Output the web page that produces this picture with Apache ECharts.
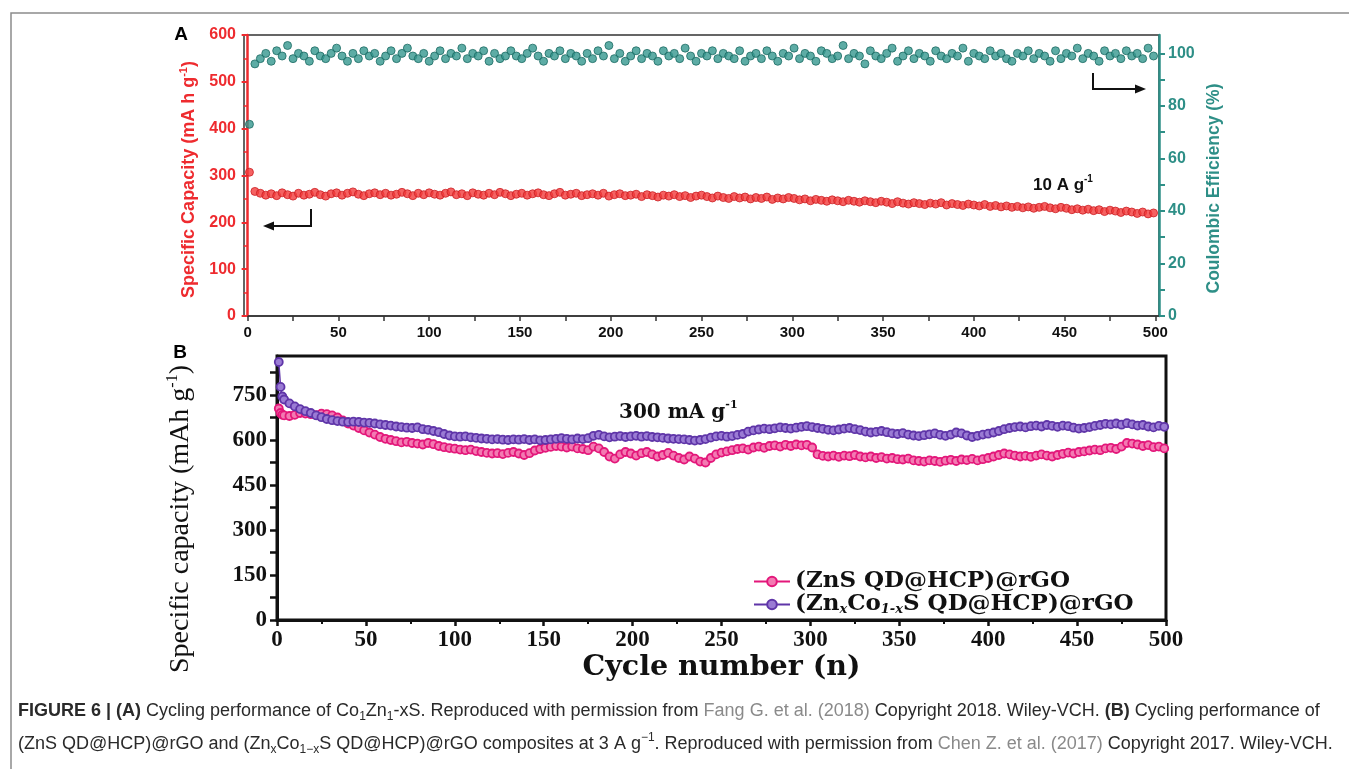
<!DOCTYPE html>
<html>
<head>
<meta charset="utf-8">
<title>Figure 6 - cycling performance</title>
<script src="https://cdn.jsdelivr.net/npm/echarts@6.0.0/dist/echarts.min.js"></script>
<style>
  html, body { margin: 0; padding: 0; background: #fff; }
  #chart { width: 1349px; height: 769px; }
</style>
</head>
<body>
<div id="chart"></div>
<script>
// sampling grid used for both panels: cycle 1, 4, 7 ... 499
const cycles = Array.from({ length: 167 }, (_, i) => 1 + 3 * i);

// tick labels
const xTicks = [0, 50, 100, 150, 200, 250, 300, 350, 400, 450, 500];
const xMinorA = [0, 25, 50, 75, 100, 125, 150, 175, 200, 225, 250, 275, 300, 325, 350, 375, 400, 425, 450, 475, 500];
const effTicks = [0, 20, 40, 60, 80, 100];
const effTickMarks = [0, 10, 20, 30, 40, 50, 60, 70, 80, 90, 100];
const capTicksB = [0, 150, 300, 450, 600, 750];
const capTickMarksB = [0, 75, 150, 225, 300, 375, 450, 525, 600, 675, 750, 825];

// panel A: specific capacity (mA h g-1), 10 A g-1
const capacityA = [307,
  266, 262, 258, 261, 257, 263, 259, 256, 262, 258, 260, 264, 259, 256, 261, 263,
  258, 262, 265, 260, 257, 261, 263, 259, 262, 258, 260, 264, 261, 257, 262, 259, 263,
  260, 258, 262, 265, 259, 261, 257, 263, 260, 258, 262, 259, 264, 261, 257, 260,
  262, 258, 261, 263, 259, 257, 261, 264, 258, 260, 262, 257, 259, 261, 258, 262, 256,
  259, 261, 257, 258, 260, 255, 259, 257, 254, 258, 256, 259, 255, 257, 253, 256, 258,
  255, 252, 256, 253, 251, 255, 252, 254, 250, 253, 251, 254, 249, 252, 250, 253,
  251, 248, 250, 246, 249, 247, 245, 248, 246, 244, 247, 245, 243, 246, 244, 242, 245,
  243, 240, 244, 241, 239, 242, 240, 238, 241, 239, 242, 237, 240, 238, 236, 239,
  237, 235, 238, 234, 236, 233, 235, 232, 234, 231, 233, 230, 232, 234, 231, 229, 232,
  230, 227, 229, 226, 228, 225, 227, 223, 226, 224, 221, 224, 222, 219, 222, 218, 220];

// panel A: coulombic efficiency (%)
const efficiencyA = [73, 96,
  98, 100, 97, 101, 99, 103, 98, 100, 99, 97,
  101, 99, 98, 100, 102, 99, 97, 100, 98, 101,
  99, 100, 97, 99, 101, 98, 100, 102, 99, 98,
  100, 97, 99, 101, 98, 100, 99, 102, 98, 100,
  99, 101, 97, 100, 98, 99, 101, 99, 98, 100,
  102, 99, 97, 100, 99, 101, 98, 100, 99, 97,
  100, 98, 101, 99, 103, 98, 100, 97, 99, 101,
  98, 100, 99, 97, 101, 99, 100, 98, 102, 99,
  97, 100, 99, 101, 98, 100, 99, 98, 101, 97,
  99, 100, 98, 101, 99, 97, 100, 99, 102, 98,
  100, 99, 97, 101, 100, 98, 99, 103, 98, 100,
  99, 96, 101, 99, 98, 100, 102, 97, 99, 101,
  98, 100, 99, 97, 101, 99, 98, 100, 99, 102,
  97, 100, 99, 98, 101, 99, 100, 98, 97, 100,
  99, 101, 98, 100, 99, 97, 101, 98, 100, 99,
  102, 98, 100, 99, 97, 101, 99, 100, 98, 101,
  99, 100, 98, 102, 99];

// panel B: specific capacity (mAh g-1), 300 mA g-1
const znsB = [
  705, 682, 680, 684, 690, 688, 686, 683, 688, 686,
  682, 675, 665, 655, 648, 640, 632, 625, 618, 610,
  604, 600, 596, 592, 594, 590, 588, 585, 590, 586,
  580, 576, 573, 571, 568, 566, 568, 563, 560, 557,
  555, 556, 553, 557, 560, 555, 550, 556, 565, 570,
  574, 577, 580, 578, 575, 578, 572, 570, 566, 578,
  572, 560, 545, 538, 552, 560, 555, 548, 556, 560,
  552, 545, 550, 557, 548, 540, 535, 545, 538, 528,
  525, 540, 552, 558, 562, 566, 570, 572, 568, 575,
  578, 574, 580, 582, 578, 584, 580, 585, 582, 584,
  575, 552, 547, 545, 548, 544, 548, 546, 550, 545,
  542, 545, 540, 543, 538, 540, 536, 535, 538, 532,
  530, 528, 532, 530, 527, 531, 534, 530, 535, 533,
  537, 532, 536, 540, 545, 550, 555, 552, 548, 545,
  547, 544, 548, 552, 548, 545, 550, 554, 558, 555,
  560, 562, 565, 568, 566, 572, 574, 570, 578, 590,
  588, 585, 580, 583, 576, 578, 572];

const znCoB = [
  860, 735, 722, 712, 703, 696, 690, 682, 676, 670,
  666, 663, 661, 660, 661, 660, 658, 657, 655, 652,
  650, 648, 645, 643, 641, 640, 642, 636, 634, 630,
  626, 620, 615, 612, 611, 612, 609, 607, 605, 604,
  602, 603, 601, 600, 602, 601, 603, 600, 602, 599,
  600, 602, 604, 606, 604, 602, 605, 603, 606, 614,
  617, 612, 609, 611, 613, 610, 612, 614, 611, 613,
  610, 609, 607, 605, 604, 603, 602, 600, 598, 600,
  603, 608, 612, 614, 611, 613, 617, 620, 628, 632,
  635, 638, 636, 639, 642, 640, 638, 641, 644, 646,
  643, 640, 637, 634, 632, 635, 638, 640, 636, 633,
  628, 625, 627, 630, 626, 622, 620, 623, 618, 615,
  613, 616, 619, 622, 617, 614, 618, 625, 622, 615,
  610, 614, 618, 621, 625, 630, 636, 640, 643, 645,
  642, 646, 648, 645, 650, 647, 644, 648, 646, 641,
  638, 640, 643, 647, 650, 654, 652, 655, 651, 656,
  652, 648, 650, 645, 642, 647, 644];

// extra early cycles in panel B
const earlyCyclesB = [2, 3];
const earlyZnsB = [690, 684];
const earlyZnCoB = [777, 745];

const RED = '#ee2b2f';
const TEAL = '#2e8f87';
const PINK = '#e3177a';
const PURPLE = '#5f35a8';
const SANS = 'Liberation Sans';
const SERIF = 'Liberation Serif';
const WIDE_SERIF = 'DejaVu Serif';

const pairs = (xs, ys) => xs.map((x, i) => [x, ys[i]]);
const mergeEarly = (main, ex, ey) =>
  pairs(cycles, main).concat(pairs(ex, ey)).sort((a, b) => a[0] - b[0]);

const chart = echarts.init(document.getElementById('chart'));

const option = {
  animation: false,
  backgroundColor: '#fff',
  grid: [
    { left: 244, top: 35, width: 915, height: 281, show: true, borderColor: '#333', borderWidth: 1.5, backgroundColor: 'transparent' },
    { left: 277, top: 356, width: 889, height: 264, show: true, borderColor: '#111', borderWidth: 3, backgroundColor: 'transparent' }
  ],
  xAxis: [
    {
      gridIndex: 0, type: 'value', min: -2, max: 502,
      axisLine: { lineStyle: { color: '#333', width: 1.5 } },
      axisTick: { customValues: xMinorA, length: 5, lineStyle: { color: '#333', width: 1.5 } },
      axisLabel: { customValues: xTicks, color: '#111', fontFamily: SANS, fontWeight: 'bold', fontSize: 15, margin: 9 },
      splitLine: { show: false }
    },
    {
      gridIndex: 1, type: 'value', min: 0, max: 500, interval: 50,
      axisLine: { lineStyle: { color: '#111', width: 3 } },
      axisTick: { length: 6, lineStyle: { color: '#111', width: 2.5 } },
      minorTick: { show: true, splitNumber: 2, length: 4, lineStyle: { color: '#111', width: 2 } },
      axisLabel: { color: '#111', fontFamily: SERIF, fontWeight: 'bold', fontSize: 23, margin: 9 },
      splitLine: { show: false },
      minorSplitLine: { show: false },
      name: 'Cycle number (n)', nameLocation: 'middle', nameGap: 33,
      nameTextStyle: { color: '#111', fontFamily: WIDE_SERIF, fontWeight: 'bold', fontSize: 28.5 }
    }
  ],
  yAxis: [
    {
      gridIndex: 0, type: 'value', min: 0, max: 600, interval: 100, position: 'left',
      axisLine: { show: true, lineStyle: { color: RED, width: 2.5 } },
      axisTick: { show: true, length: 6, lineStyle: { color: RED, width: 2 } },
      minorTick: { show: true, splitNumber: 2, length: 4, lineStyle: { color: RED, width: 1.5 } },
      axisLabel: { color: RED, fontFamily: SANS, fontWeight: 'bold', fontSize: 16, margin: 8 },
      splitLine: { show: false },
      name: 'Specific Capacity (mA h g{sup|-1})', nameLocation: 'middle', nameGap: 40, nameRotate: 90,
      nameTextStyle: {
        color: RED, fontFamily: SANS, fontWeight: 'bold', fontSize: 18, padding: [0, 8, 0, 0],
        rich: { sup: { color: RED, fontFamily: SANS, fontWeight: 'bold', fontSize: 11, verticalAlign: 'top', lineHeight: 21 } }
      }
    },
    {
      gridIndex: 0, type: 'value', min: 0, max: 107, position: 'right',
      axisLine: { show: true, lineStyle: { color: TEAL, width: 2.5 } },
      axisTick: { show: true, customValues: effTickMarks, length: 6, lineStyle: { color: TEAL, width: 2 } },
      axisLabel: { customValues: effTicks, color: TEAL, fontFamily: SANS, fontWeight: 'bold', fontSize: 16, margin: 9 },
      splitLine: { show: false },
      name: 'Coulombic Efficiency (%)', nameLocation: 'middle', nameGap: 33, nameRotate: 90,
      nameTextStyle: { color: TEAL, fontFamily: SANS, fontWeight: 'bold', fontSize: 17.5, padding: [0, 26, 0, 0] }
    },
    {
      gridIndex: 1, type: 'value', min: 0, max: 880,
      axisLine: { show: true, lineStyle: { color: '#111', width: 3 } },
      axisTick: { show: true, customValues: capTickMarksB, length: 7, lineStyle: { color: '#111', width: 2.5 } },
      axisLabel: { customValues: capTicksB, color: '#111', fontFamily: SERIF, fontWeight: 'bold', fontSize: 23, margin: 10 },
      splitLine: { show: false },
      name: 'Specific capacity (mAh g{sup|-1})', nameLocation: 'middle', nameGap: 80, nameRotate: 90,
      nameTextStyle: {
        color: '#111', fontFamily: SERIF, fontSize: 28, padding: [0, 62, 0, 0],
        rich: { sup: { color: '#111', fontFamily: SERIF, fontSize: 16, verticalAlign: 'top', lineHeight: 32 } }
      }
    }
  ],
  legend: {
    left: 748, top: 565, orient: 'vertical', itemGap: 0,
    itemWidth: 36, itemHeight: 12,
    data: ['(ZnS QD@HCP)@rGO', '(ZnxCo1-xS QD@HCP)@rGO'],
    formatter: name => name === '(ZnS QD@HCP)@rGO' ? name : '(Zn{s|x}Co{s|1-x}S QD@HCP)@rGO',
    textStyle: {
      color: '#111', fontFamily: WIDE_SERIF, fontWeight: 'bold', fontSize: 23, lineHeight: 23,
      rich: { s: { fontFamily: WIDE_SERIF, fontWeight: 'bold', fontStyle: 'italic', fontSize: 13, verticalAlign: 'bottom', lineHeight: 23 } }
    }
  },
  series: [
    {
      name: 'Capacity A', type: 'scatter', xAxisIndex: 0, yAxisIndex: 0,
      data: pairs(cycles, capacityA), symbolSize: 8,
      itemStyle: { color: '#f23b3b', borderColor: '#cc1f24', borderWidth: 1 }
    },
    {
      name: 'Efficiency A', type: 'scatter', xAxisIndex: 0, yAxisIndex: 1,
      data: pairs(cycles, efficiencyA), symbolSize: 8,
      itemStyle: { color: '#35978e', borderColor: '#1b6a63', borderWidth: 1 }
    },
    {
      name: '(ZnS QD@HCP)@rGO', type: 'line', xAxisIndex: 1, yAxisIndex: 2,
      data: mergeEarly(znsB, earlyCyclesB, earlyZnsB),
      symbol: 'circle', symbolSize: 8, showAllSymbol: true,
      lineStyle: { color: PINK, width: 1.5 },
      itemStyle: { color: '#f37ab2', borderColor: PINK, borderWidth: 1.8 }
    },
    {
      name: '(ZnxCo1-xS QD@HCP)@rGO', type: 'line', xAxisIndex: 1, yAxisIndex: 2,
      data: mergeEarly(znCoB, earlyCyclesB, earlyZnCoB),
      symbol: 'circle', symbolSize: 8, showAllSymbol: true,
      lineStyle: { color: PURPLE, width: 1.5 },
      itemStyle: { color: '#9a7bd4', borderColor: PURPLE, borderWidth: 1.8 }
    }
  ],
  graphic: [
    // figure frame
    { type: 'rect', shape: { x: 11, y: 13, width: 1345, height: 770 }, style: { fill: 'none', stroke: '#8c8c8c', lineWidth: 1.5 }, silent: true },
    // panel letters
    { type: 'text', x: 181, y: 35, style: { text: 'A', fill: '#000', fontFamily: SANS, fontWeight: 'bold', fontSize: 19, align: 'center', verticalAlign: 'middle' } },
    { type: 'text', x: 180, y: 353, style: { text: 'B', fill: '#000', fontFamily: SANS, fontWeight: 'bold', fontSize: 19, align: 'center', verticalAlign: 'middle' } },
    // annotations
    {
      type: 'text', x: 1033, y: 185,
      style: {
        text: '10 A g{sup|-1}', fill: '#111', fontFamily: SANS, fontWeight: 'bold', fontSize: 17, verticalAlign: 'middle', lineHeight: 22,
        rich: { sup: { fontFamily: SANS, fontWeight: 'bold', fontSize: 10, verticalAlign: 'top', lineHeight: 22, fill: '#111' } }
      }
    },
    {
      type: 'text', x: 619, y: 413,
      style: {
        text: '300 mA g{sup|-1}', fill: '#111', fontFamily: WIDE_SERIF, fontWeight: 'bold', fontSize: 20, verticalAlign: 'middle', lineHeight: 26,
        rich: { sup: { fontFamily: WIDE_SERIF, fontWeight: 'bold', fontSize: 11, verticalAlign: 'top', lineHeight: 26, fill: '#111' } }
      }
    },
    // left-pointing arrow (capacity axis)
    { type: 'polyline', shape: { points: [[311, 209], [311, 226], [272, 226]] }, style: { stroke: '#111', lineWidth: 2, fill: 'none' } },
    { type: 'polygon', shape: { points: [[263, 226], [274, 221.5], [274, 230.5]] }, style: { fill: '#111' } },
    // right-pointing arrow (efficiency axis)
    { type: 'polyline', shape: { points: [[1093, 73], [1093, 89], [1136, 89]] }, style: { stroke: '#111', lineWidth: 2, fill: 'none' } },
    { type: 'polygon', shape: { points: [[1146, 89], [1135, 84.5], [1135, 93.5]] }, style: { fill: '#111' } },
    // caption
    {
      type: 'text', x: 18, y: 711,
      style: {
        text: '{b|FIGURE 6 | (A)} Cycling performance of Co{sub|1}Zn{sub|1}-xS. Reproduced with permission from {g|Fang G. et al. (2018)} Copyright 2018. Wiley-VCH. {b|(B)} Cycling performance of',
        fill: '#2a2a2a', fontFamily: SANS, fontSize: 18, verticalAlign: 'middle', lineHeight: 24,
        rich: {
          b: { fontFamily: SANS, fontWeight: 'bold', fontSize: 18, fill: '#2a2a2a', lineHeight: 24 },
          g: { fontFamily: SANS, fontSize: 18, fill: '#8a8a8a', lineHeight: 24 },
          sub: { fontFamily: SANS, fontSize: 12, fill: '#2a2a2a', verticalAlign: 'bottom', lineHeight: 24 }
        }
      }
    },
    {
      type: 'text', x: 18, y: 744,
      style: {
        text: '(ZnS QD@HCP)@rGO and (Zn{sub|x}Co{sub|1\u2212x}S QD@HCP)@rGO composites at 3 A g{sup|\u22121}. Reproduced with permission from {g|Chen Z. et al. (2017)} Copyright 2017. Wiley-VCH.',
        fill: '#2a2a2a', fontFamily: SANS, fontSize: 18, verticalAlign: 'middle', lineHeight: 24,
        rich: {
          g: { fontFamily: SANS, fontSize: 18, fill: '#8a8a8a', lineHeight: 24 },
          sub: { fontFamily: SANS, fontSize: 12, fill: '#2a2a2a', verticalAlign: 'bottom', lineHeight: 24 },
          sup: { fontFamily: SANS, fontSize: 12, fill: '#2a2a2a', verticalAlign: 'top', lineHeight: 24 }
        }
      }
    }
  ]
};

chart.setOption(option);
</script>
</body>
</html>
